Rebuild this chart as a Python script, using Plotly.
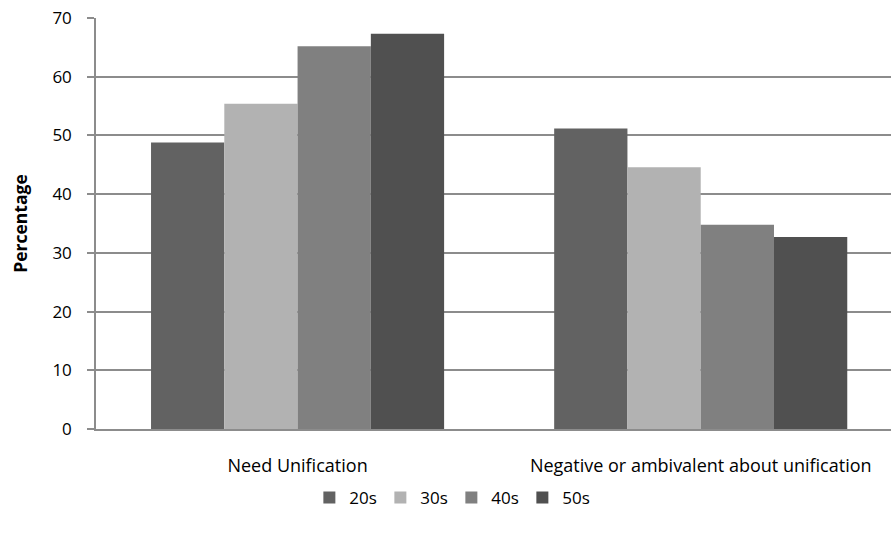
import plotly.graph_objects as go

categories = ["Need Unification", "Negative or ambivalent about unification"]
age_groups = ["20s", "30s", "40s", "50s"]
values_20s = [48.8, 51.2]
values_30s = [55.4, 44.6]
values_40s = [65.2, 34.8]
values_50s = [67.3, 32.7]
y_ticks = [0, 10, 20, 30, 40, 50, 60, 70]

series = [values_20s, values_30s, values_40s, values_50s]
colors = ["#626262", "#b2b2b2", "#808080", "#505050"]
font_family = "'Open Sans', sans-serif"

fig = go.Figure()
for name, vals, col in zip(age_groups, series, colors):
    fig.add_trace(go.Bar(
        x=[0, 1], y=vals, name=name,
        marker=dict(color=col, line=dict(width=0)),
    ))

fig.update_layout(
    width=891, height=537,
    margin=dict(l=96, r=0, t=18, b=108),
    paper_bgcolor="white", plot_bgcolor="white",
    barmode="group", bargap=0.273, bargroupgap=0,
    font=dict(family=font_family, size=18, color="#000000"),
    showlegend=True,
    legend=dict(
        orientation="h", x=0.447, xanchor="center", y=-0.168, yanchor="middle",
        font=dict(size=17), itemwidth=30, entrywidth=26,
        traceorder="normal",
    ),
    xaxis=dict(
        range=[-0.5, 1.472], tickmode="array", tickvals=[0, 1], ticktext=categories,
        showgrid=False, showline=True, linecolor="#8c8c8c", linewidth=1.5,
        ticks="", ticklabelstandoff=20, zeroline=False,
        tickfont=dict(size=18),
    ),
    yaxis=dict(
        range=[0, 70], tickmode="array", tickvals=y_ticks,
        showgrid=True, gridcolor="#8c8c8c", gridwidth=1.5,
        showline=True, linecolor="#8c8c8c", linewidth=1.5,
        ticks="outside", ticklen=7, tickcolor="#8c8c8c", tickwidth=1.5,
        ticklabelstandoff=12, zeroline=False, tickfont=dict(size=17),
        title=dict(text="<b>Percentage</b>", font=dict(size=17.5), standoff=20),
    ),
)

fig.write_html("out.html")
